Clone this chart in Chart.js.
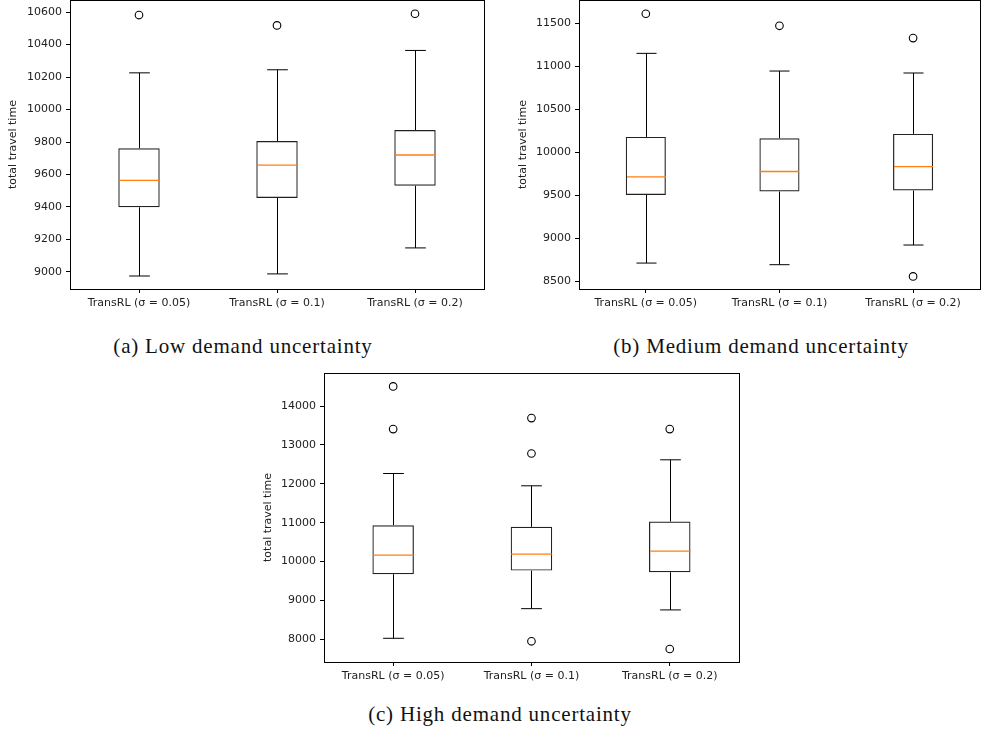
<!DOCTYPE html>
<html>
<head>
<meta charset="utf-8">
<script src="https://cdn.jsdelivr.net/npm/chart.js@4.4.0/dist/chart.umd.min.js"></script>
<style>
  html, body { margin: 0; padding: 0; background: #fff; }
  body { width: 985px; height: 735px; position: relative; overflow: hidden; }
  canvas { position: absolute; }
  .cap { position: absolute; font-family: "Liberation Serif", "DejaVu Serif", serif; font-size: 21px; letter-spacing: 0.8px; color: #111; white-space: nowrap; transform: translateX(-50%); line-height: 24px; }
</style>
</head>
<body>
<canvas id="ca" width="490" height="325" style="left:0px;top:-5px"></canvas>
<canvas id="cb" width="490" height="325" style="left:495px;top:-5px"></canvas>
<canvas id="cc" width="490" height="330" style="left:254px;top:363px"></canvas>
<div class="cap" style="left:243px;top:334px">(a) Low demand uncertainty</div>
<div class="cap" style="left:761px;top:334px">(b) Medium demand uncertainty</div>
<div class="cap" style="left:500px;top:702px">(c) High demand uncertainty</div>
<script>
// ---------- data ----------
const categories = ['TransRL (σ = 0.05)', 'TransRL (σ = 0.1)', 'TransRL (σ = 0.2)'];
const yTitle = 'total travel time';

// (a) Low demand uncertainty
const lowQ1 = [9398, 9455, 9531];
const lowMedian = [9564, 9658, 9720];
const lowQ3 = [9761, 9806, 9874];
const lowWhiskerLow = [8975, 8988, 9148];
const lowWhiskerHigh = [10226, 10245, 10364];
const lowOutliers = [[10582], [10518], [10590]];
const lowTicks = [9000, 9200, 9400, 9600, 9800, 10000, 10200, 10400, 10600];

// (b) Medium demand uncertainty
const medQ1 = [9503, 9542, 9554];
const medMedian = [9713, 9775, 9833];
const medQ3 = [10178, 10163, 10213];
const medWhiskerLow = [8709, 8690, 8919];
const medWhiskerHigh = [11151, 10945, 10922];
const medOutliers = [[11612], [11472], [11329, 8554]];
const medTicks = [8500, 9000, 9500, 10000, 10500, 11000, 11500];

// (c) High demand uncertainty
const highQ1 = [9673, 9767, 9725];
const highMedian = [10163, 10189, 10266];
const highQ3 = [10935, 10892, 11029];
const highWhiskerLow = [8025, 8787, 8755];
const highWhiskerHigh = [12264, 11948, 12617];
const highOutliers = [[14505, 13408], [13691, 12779, 7948], [13408, 7750]];
const highTicks = [8000, 9000, 10000, 11000, 12000, 13000, 14000];

// ---------- drawing helpers ----------
const crisp = v => Math.round(v) + 0.5;
const boxPlugin = {
  id: 'boxExtras',
  afterDatasetsDraw(chart, args, opts) {
    const ctx = chart.ctx;
    const xs = chart.scales.x, ys = chart.scales.y;
    const meta = chart.getDatasetMeta(0);
    ctx.save();
    ctx.beginPath();
    ctx.rect(chart.chartArea.left, chart.chartArea.top, chart.chartArea.right - chart.chartArea.left, chart.chartArea.bottom - chart.chartArea.top);
    ctx.clip();
    for (let i = 0; i < opts.median.length; i++) {
      const el = meta.data[i];
      const x = crisp(xs.getPixelForValue(i));
      const w = el.width;
      const yQ1 = ys.getPixelForValue(opts.q1[i]);
      const yQ3 = ys.getPixelForValue(opts.q3[i]);
      const yLo = ys.getPixelForValue(opts.lo[i]);
      const yHi = ys.getPixelForValue(opts.hi[i]);
      const yMed = ys.getPixelForValue(opts.median[i]);
      ctx.lineWidth = 1;
      ctx.strokeStyle = '#000';
      ctx.beginPath();
      ctx.moveTo(x, yQ3); ctx.lineTo(x, yHi);
      ctx.moveTo(x, yQ1); ctx.lineTo(x, yLo);
      ctx.moveTo(x - w / 4, yHi); ctx.lineTo(x + w / 4, yHi);
      ctx.moveTo(x - w / 4, yLo); ctx.lineTo(x + w / 4, yLo);
      ctx.stroke();
      ctx.lineWidth = 1.3;
      ctx.strokeStyle = '#ff7f0e';
      ctx.beginPath();
      ctx.moveTo(x - w / 2 + 0.5, yMed); ctx.lineTo(x + w / 2 - 0.5, yMed);
      ctx.stroke();
    }
    ctx.restore();
    // frame
    const a = chart.chartArea;
    ctx.save();
    ctx.strokeStyle = '#000';
    ctx.lineWidth = 1;
    ctx.strokeRect(Math.round(a.left) + 0.5, Math.round(a.top) + 0.5, Math.round(a.right - a.left), Math.round(a.bottom - a.top));
    ctx.restore();
  }
};

function makeChart(id, q1, med, q3, lo, hi, outliers, ticks, yMin, yMax, yWidth, padR, padT, titlePad) {
  const outPts = [];
  outliers.forEach((arr, i) => arr.forEach(v => outPts.push({ x: categories[i], y: v })));
  return new Chart(document.getElementById(id), {
    data: {
      labels: categories,
      datasets: [
        {
          type: 'bar',
          data: q1.map((v, i) => [v, q3[i]]),
          backgroundColor: 'rgba(255,255,255,0)',
          borderColor: '#222',
          borderWidth: 1.2,
          borderSkipped: false,
          barPercentage: 0.3,
          categoryPercentage: 1.0
        },
        {
          type: 'line',
          data: outPts,
          showLine: false,
          pointStyle: 'circle',
          pointRadius: 3.8,
          pointBorderWidth: 1.1,
          pointBorderColor: '#000',
          pointBackgroundColor: 'rgba(255,255,255,0)'
        }
      ]
    },
    options: {
      responsive: false,
      animation: false,
      events: [],
      layout: { padding: { left: 0, right: padR, top: padT, bottom: 0 } },
      plugins: {
        legend: { display: false },
        tooltip: { enabled: false },
        boxExtras: { q1: q1, q3: q3, median: med, lo: lo, hi: hi }
      },
      scales: {
        x: {
          type: 'category',
          offset: true,
          border: { display: false },
          grid: { display: true, drawOnChartArea: false, drawTicks: true, tickLength: 4, offset: false, color: '#000', lineWidth: 1 },
          ticks: { color: '#222', font: { family: 'DejaVu Sans', size: 11 }, padding: 4, maxRotation: 0, autoSkip: false },
          afterFit(s) { s.height = 31; s.paddingLeft = 0; s.paddingRight = 0; }
        },
        y: {
          type: 'linear',
          min: yMin,
          max: yMax,
          border: { display: false },
          grid: { display: true, drawOnChartArea: false, drawTicks: true, tickLength: 4, color: '#000', lineWidth: 1 },
          ticks: { color: '#222', font: { family: 'DejaVu Sans', size: 11 }, padding: 4, callback: v => String(v) },
          afterBuildTicks(s) { s.ticks = ticks.map(v => ({ value: v })); },
          title: { display: true, text: yTitle, color: '#222', font: { family: 'DejaVu Sans', size: 11 }, padding: { top: titlePad, bottom: 0 } },
          afterFit(s) { s.width = yWidth; s.paddingTop = 0; s.paddingBottom = 0; }
        }
      }
    },
    plugins: [boxPlugin]
  });
}

makeChart('ca', lowQ1, lowMedian, lowQ3, lowWhiskerLow, lowWhiskerHigh, lowOutliers, lowTicks, 8895, 10674, 70, 6, 0, 7);
makeChart('cb', medQ1, medMedian, medQ3, medWhiskerLow, medWhiskerHigh, medOutliers, medTicks, 8407, 11771, 84, 1, 0, 22);
makeChart('cc', highQ1, highMedian, highQ3, highWhiskerLow, highWhiskerHigh, highOutliers, highTicks, 7415, 14850, 70, 5, 10, 8);
</script>
</body>
</html>
